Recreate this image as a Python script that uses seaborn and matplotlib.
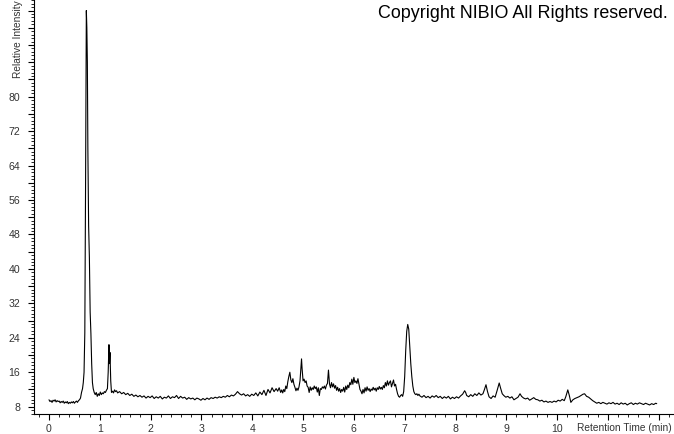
import matplotlib
matplotlib.use("Agg")
import matplotlib.pyplot as plt
import seaborn as sns
import pandas as pd
from matplotlib.ticker import MultipleLocator, FuncFormatter

# ---- data (time in min, relative intensity) ----
seg_start_t = [0.00, 0.02, 0.04, 0.06, 0.08, 0.10, 0.12, 0.14, 0.16, 0.18, 0.20, 0.22,
               0.24, 0.26, 0.28, 0.30, 0.32, 0.34, 0.36, 0.38, 0.40, 0.42, 0.44, 0.46,
               0.48, 0.50, 0.52, 0.54, 0.56, 0.58, 0.60, 0.62]
seg_start_i = [9.6, 9.2, 9.4, 9.0, 9.5, 9.3, 9.6, 9.1, 9.4, 9.2, 9.3, 8.9,
               9.2, 9.0, 9.3, 8.8, 9.1, 8.9, 9.2, 8.7, 9.0, 8.8, 9.1, 8.9,
               9.2, 8.8, 9.1, 9.3, 9.0, 9.4, 9.6, 10.0]

peak1_t = [0.64, 0.66, 0.675, 0.69, 0.705, 0.72, 0.735, 0.745, 0.755, 0.765, 0.78, 0.795,
           0.81, 0.825, 0.84, 0.855, 0.87, 0.89, 0.91, 0.93, 0.95, 0.97, 0.99, 1.01,
           1.03, 1.05, 1.07, 1.09, 1.11, 1.13, 1.15, 1.165, 1.18, 1.19, 1.20, 1.215,
           1.23, 1.25, 1.27, 1.29, 1.31, 1.33]
peak1_i = [11.3, 12.2, 13.6, 16.0, 25.2, 60.0, 100.0, 96.0, 88.0, 68.0, 50.0, 42.6,
           30.0, 25.0, 18.0, 13.6, 12.2, 11.3, 10.8, 11.3, 10.4, 11.0, 10.6, 11.4,
           10.8, 11.2, 11.0, 11.5, 11.3, 11.8, 12.2, 16.0, 22.4, 18.0, 20.6, 14.0,
           11.3, 11.6, 11.2, 11.9, 11.5, 11.7]

base_t = [1.35, 1.39, 1.43, 1.47, 1.51, 1.55, 1.59, 1.63, 1.67, 1.71, 1.75, 1.79,
          1.83, 1.87, 1.91, 1.95, 1.99, 2.03, 2.07, 2.11, 2.15, 2.19, 2.23, 2.27,
          2.31, 2.35, 2.39, 2.43, 2.47, 2.51, 2.55, 2.59, 2.63, 2.67, 2.71, 2.75,
          2.79, 2.83, 2.87, 2.91, 2.95, 2.99, 3.03, 3.07, 3.11, 3.15, 3.19, 3.23,
          3.27, 3.31, 3.35, 3.39, 3.43, 3.47, 3.51, 3.55, 3.59, 3.63, 3.67, 3.71,
          3.75, 3.79, 3.83, 3.87, 3.91, 3.95, 3.99, 4.03, 4.07, 4.11, 4.15, 4.19,
          4.23, 4.27, 4.31, 4.35, 4.39, 4.43, 4.47]
base_i = [11.2, 11.5, 11.0, 11.3, 10.8, 11.1, 10.6, 10.9, 10.4, 10.7, 10.3, 10.6,
          10.2, 10.5, 10.0, 10.4, 10.1, 10.5, 9.9, 10.3, 10.0, 10.4, 9.8, 10.2,
          10.0, 10.5, 9.9, 10.3, 10.1, 10.6, 9.9, 10.4, 10.0, 10.2, 9.7, 10.1,
          9.8, 10.0, 9.6, 10.0, 9.8, 9.5, 9.9, 9.6, 10.0, 9.7, 10.1, 9.9,
          10.2, 10.0, 10.3, 10.1, 10.4, 10.2, 10.6, 10.3, 10.7, 10.5, 10.9, 11.5,
          11.0, 10.7, 11.0, 10.5, 10.8, 10.4, 10.9, 10.6, 11.2, 10.5, 11.4, 10.8,
          11.8, 10.6, 12.0, 11.2, 12.4, 11.5, 12.2]

busy_t = [4.50, 4.53, 4.56, 4.58, 4.60, 4.62, 4.64, 4.66, 4.68, 4.70, 4.72, 4.74,
          4.76, 4.78, 4.80, 4.82, 4.84, 4.86, 4.88, 4.90, 4.92, 4.94, 4.96, 4.97,
          4.98, 5.00, 5.02, 5.04, 5.06, 5.08, 5.10, 5.12, 5.14, 5.16, 5.18, 5.20,
          5.22, 5.24, 5.26, 5.28, 5.30, 5.32, 5.34, 5.36, 5.38, 5.40, 5.42, 5.44,
          5.46, 5.48, 5.50, 5.52, 5.54, 5.56, 5.58, 5.60, 5.62, 5.64, 5.66, 5.68,
          5.70, 5.72, 5.74, 5.76, 5.78, 5.80, 5.82, 5.84, 5.86, 5.88, 5.90, 5.92,
          5.94, 5.96, 5.98, 6.00, 6.02, 6.04, 6.06, 6.08, 6.10, 6.12, 6.14, 6.16,
          6.18, 6.20, 6.22, 6.24, 6.26, 6.28, 6.30, 6.32, 6.34, 6.36, 6.38, 6.40,
          6.42, 6.44, 6.46, 6.48, 6.50, 6.52, 6.54, 6.56, 6.58, 6.60, 6.62, 6.64,
          6.66, 6.68, 6.70, 6.72, 6.74, 6.76, 6.78, 6.80, 6.82, 6.84, 6.86, 6.88,
          6.90, 6.92, 6.94, 6.96]
busy_i = [11.6, 12.4, 11.3, 11.9, 11.2, 12.0, 11.5, 12.8, 12.2, 13.8, 15.0, 16.0,
          14.2, 13.6, 14.5, 13.2, 12.5, 11.7, 12.3, 11.8, 12.6, 14.0, 17.5, 19.1,
          17.0, 14.0, 14.4, 13.6, 14.0, 12.8, 12.5, 11.3, 12.6, 11.8, 12.4, 12.0,
          12.8, 12.2, 12.6, 11.4, 12.4, 10.6, 12.2, 12.0, 12.6, 12.3, 12.8, 12.1,
          13.0, 13.4, 16.5, 13.3, 12.4, 13.6, 12.6, 13.3, 12.3, 12.9, 11.8, 12.5,
          11.6, 12.2, 11.3, 12.0, 11.6, 12.5, 11.4, 12.8, 12.0, 13.0, 12.4, 13.6,
          13.1, 14.4, 13.2, 14.8, 13.6, 14.0, 13.4, 14.5, 13.2, 12.0, 11.6, 11.0,
          12.0, 11.2, 12.4, 11.6, 12.6, 11.8, 12.2, 11.5, 12.1, 11.8, 12.5, 11.9,
          12.3, 11.6, 12.4, 12.0, 12.7, 12.1, 12.5, 12.0, 12.9, 12.4, 13.6, 12.8,
          14.0, 13.0, 13.6, 14.0, 12.6, 13.4, 14.2, 12.8, 13.2, 12.0, 11.0, 10.4,
          10.2, 10.6, 10.8, 10.4]

peak2_t = [6.98, 7.00, 7.02, 7.04, 7.06, 7.08, 7.10, 7.12, 7.14, 7.16, 7.18, 7.20,
           7.22, 7.24, 7.26, 7.28]
peak2_i = [11.5, 15.0, 21.0, 25.5, 27.1, 26.0, 22.0, 18.0, 15.0, 12.8, 11.5, 11.0,
           10.8, 11.0, 10.6, 10.9]

tail_t = [7.30, 7.34, 7.38, 7.42, 7.46, 7.50, 7.54, 7.58, 7.62, 7.66, 7.70, 7.74,
          7.78, 7.82, 7.86, 7.90, 7.94, 7.98, 8.02, 8.06, 8.10, 8.14, 8.18, 8.20,
          8.22, 8.26, 8.30, 8.34, 8.38, 8.42, 8.46, 8.50, 8.54, 8.57, 8.60, 8.63,
          8.66, 8.70, 8.74, 8.78, 8.82, 8.86, 8.89, 8.92, 8.95, 8.99, 9.03, 9.07,
          9.11, 9.15, 9.19, 9.23, 9.27, 9.30, 9.34, 9.38, 9.42, 9.46, 9.50, 9.54,
          9.58, 9.62, 9.66, 9.70, 9.74, 9.78, 9.82, 9.86, 9.90, 9.94, 9.98, 10.02,
          10.06, 10.10, 10.14, 10.17, 10.21, 10.24, 10.27, 10.31, 10.35, 10.39, 10.43, 10.47,
          10.51, 10.54, 10.58, 10.62, 10.66, 10.70, 10.74, 10.78, 10.82, 10.86, 10.90, 10.94,
          10.98, 11.02, 11.06, 11.10, 11.14, 11.18, 11.22, 11.26, 11.30, 11.34, 11.38, 11.42,
          11.46, 11.50, 11.54, 11.58, 11.62, 11.66, 11.70, 11.74, 11.78, 11.82, 11.86, 11.90,
          11.94, 11.96]
tail_i = [10.5, 10.2, 10.6, 10.1, 10.4, 10.0, 10.5, 10.2, 10.6, 10.1, 10.4, 9.9,
          10.3, 10.0, 10.4, 9.8, 10.2, 9.9, 10.3, 10.0, 10.5, 10.9, 11.7, 11.3,
          10.6, 10.3, 10.8, 10.4, 11.0, 10.6, 11.2, 10.7, 11.0, 12.0, 13.1, 11.5,
          10.3, 9.9, 10.5, 10.2, 11.8, 13.5, 12.2, 11.0, 10.6, 10.2, 10.4, 10.0,
          10.3, 9.6, 9.9, 10.2, 11.0, 10.4, 10.0, 9.8, 10.0, 9.5, 9.8, 10.1,
          9.7, 9.6, 9.3, 9.5, 9.1, 9.3, 9.0, 9.2, 9.0, 9.3, 9.1, 9.5,
          9.3, 9.7, 9.4, 10.3, 11.9, 10.6, 9.0, 9.6, 9.9, 10.1, 10.3, 10.6,
          10.9, 11.0, 10.4, 10.2, 9.8, 9.4, 9.1, 8.8, 9.0, 8.7, 9.0, 8.8,
          8.6, 8.9, 8.7, 9.0, 8.6, 8.8, 8.5, 8.9, 8.6, 8.8, 8.4, 8.7,
          8.9, 8.5, 8.8, 8.6, 8.9, 8.7, 8.5, 8.8, 8.6, 8.4, 8.7, 8.5,
          8.8, 8.7]

x_tick_labels = ["0", "1", "2", "3", "4", "5", "6", "7", "8", "9", "10"]
y_tick_labels = ["8", "16", "24", "32", "40", "48", "56", "64", "72", "80"]

times = seg_start_t + peak1_t + base_t + busy_t + peak2_t + tail_t
intens = seg_start_i + peak1_i + base_i + busy_i + peak2_i + tail_i
df = pd.DataFrame({"time": times, "intensity": intens})

# ---- figure ----
sns.set_theme(style="ticks")
plt.rcParams["font.family"] = ["Liberation Sans", "DejaVu Sans"]

W, H = 674, 434
fig = plt.figure(figsize=(W / 100, H / 100), dpi=100)
ax = fig.add_axes([34 / W, (H - 414) / H, 1 - 34 / W, 414 / H])

sns.lineplot(data=df, x="time", y="intensity", ax=ax, color="black",
             linewidth=0.8, estimator=None, sort=False)

ax.set_xlim(-0.295, 12.3)
ax.set_ylim(6.3, 102.46)

for s in ["top", "right"]:
    ax.spines[s].set_visible(False)
for s in ["left", "bottom"]:
    ax.spines[s].set_color("black")
    ax.spines[s].set_linewidth(0.8)

ax.xaxis.set_major_locator(MultipleLocator(1))
ax.xaxis.set_minor_locator(MultipleLocator(0.2))
ax.yaxis.set_major_locator(MultipleLocator(4))
ax.yaxis.set_minor_locator(MultipleLocator(0.8))

xl = {float(v): v for v in x_tick_labels}
yl = {float(v): v for v in y_tick_labels}
ax.xaxis.set_major_formatter(FuncFormatter(lambda v, p: xl.get(round(v, 3), "")))
ax.yaxis.set_major_formatter(FuncFormatter(lambda v, p: yl.get(round(v, 3), "")))

ax.tick_params(axis="both", which="major", length=4, width=0.8, color="black",
               labelsize=7.6, labelcolor="#333333")
ax.tick_params(axis="both", which="minor", length=2, width=0.6, color="black")
ax.tick_params(axis="x", which="major", pad=3)
ax.tick_params(axis="y", which="major", pad=6)

ax.set_xlabel("")
ax.set_ylabel("")

fig.text(672 / W, (H - 428) / H, "Retention Time (min)", ha="right", va="center",
         fontsize=7.3, color="#333333")
fig.text(18 / W, (H - 78) / H, "Relative Intensity", rotation=90, ha="center",
         va="bottom", fontsize=7.3, color="#333333")
fig.text(668 / W, 1 - 14 / H, "Copyright NIBIO All Rights reserved.", ha="right",
         va="center", fontsize=12.9, color="black")

fig.savefig("out.png", dpi=100)
